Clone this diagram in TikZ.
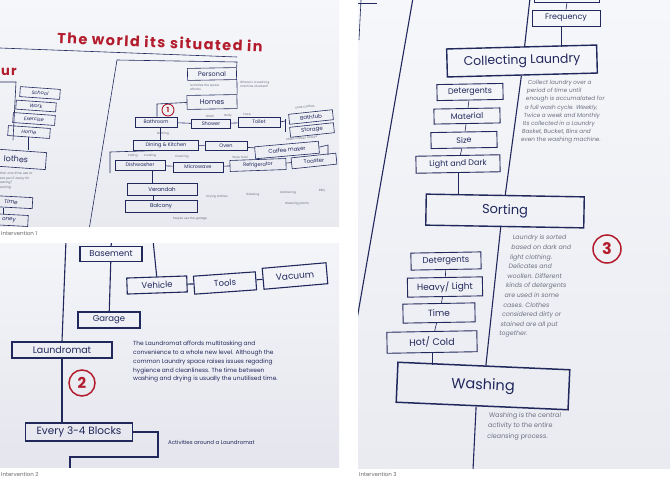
\documentclass[tikz,border=0pt]{standalone}
\usepackage{fontspec}
\setmainfont{Poppins}
\usetikzlibrary{calc}
\definecolor{ink}{RGB}{33,40,92}
\definecolor{redink}{RGB}{178,28,45}
\definecolor{note}{RGB}{110,113,130}
\definecolor{caption}{RGB}{105,105,110}
\newcommand\fsz[1]{\fontsize{#1}{#1}\selectfont}
\newcommand\fszl[2]{\fontsize{#1}{#2}\selectfont}
\begin{document}
\begin{tikzpicture}[x=1pt,y=-1pt,
  bx/.style={draw=ink, line width=0.6pt, text=ink, inner sep=0pt},
  bxb/.style={draw=ink, line width=1.1pt, text=ink, inner sep=0pt},
  ln/.style={draw=ink, line width=0.6pt},
  lnb/.style={draw=ink, line width=1.1pt},
  nt/.style={text=note, inner sep=0pt, font=\fszl{3}{4}},
  para/.style={text=ink, inner sep=0pt, align=left},
  badge/.style={circle, draw=redink, text=redink, inner sep=0pt, font=\bfseries},
  photolabel/.style={text=caption, inner sep=0pt, anchor=west, font=\fsz{5.5}}]
\useasboundingbox (0,0) rectangle (670,482);
\fill[white] (0,0) rectangle (670,482);

% ---------------- first photograph: the world its situated in
\begin{scope}
\clip (0,0) rectangle (339,226);
\shade[top color={rgb,255:red,246;green,247;blue,250}, bottom color={rgb,255:red,232;green,234;blue,240}] (0,0) rectangle (339,226);
\node[text=redink, font=\bfseries\fsz{14.5}\addfontfeature{LetterSpace=10}, rotate=-2.5, inner sep=0pt] (title) at (160,42) {The world its situated in};
\node[text=redink, font=\bfseries\fsz{13}\addfontfeature{LetterSpace=9}, anchor=west, inner sep=0pt] (ur) at (1,72) {ur};
\coordinate (ul0) at (0,48);
\coordinate (ul1) at (237,57);
\draw[ln] (ul0) -- (ul1);
\coordinate (br0) at (89,230);
\coordinate (br1) at (117,60);
\coordinate (br2) at (237,62);

\node[bx, minimum width=49, minimum height=12, font=\fsz{6.5}, rotate=1] (personal) at (212,74) {Personal};
\node[bx, minimum width=50, minimum height=14, font=\fsz{7}, rotate=1] (homes) at (212,102) {Homes};
\draw[ln] (br0) -- (br1) -- (br2) -- (personal.north east);
\draw[ln] (personal.south east) -- (homes.north east);
\node[nt, align=left, anchor=north west] (n1) at (190,84) {Activities the space\\affords};
\node[nt, align=left, anchor=north west] (n2) at (240,81) {Where is a washing\\machine situated?};

\node[badge, minimum size=12, line width=0.9pt, font=\bfseries\fsz{7}] (b1) at (168,110) {1};
\node[bx, minimum width=42, minimum height=10, font=\fsz{5}] (bath) at (156,122) {Bathroom};
\node[bx, minimum width=39, minimum height=9, font=\fsz{5}] (shower) at (211,124) {Shower};
\node[bx, minimum width=42, minimum height=10, font=\fsz{5}] (toilet) at (259,122) {Toilet};
\node[bx, minimum width=44, minimum height=10, font=\fsz{5.5}, rotate=6] (tub) at (311,117) {Bathtub};
\node[bx, minimum width=44, minimum height=10, font=\fsz{5.5}, rotate=6] (storage) at (312,130) {Storage};
\coordinate (hk) at (157,104);
\draw[ln] (homes.west) -- (hk) -- (hk |- bath.north);
\draw[ln] (bath) -- (shower) -- (toilet);
\coordinate (tb) at (285,121);
\draw[ln] (toilet.east) -- (tb);
\draw[ln] (tb |- tub.west) -- (tb |- storage.west);
\node[nt] (w1) at (210,116) {Wash};
\node[nt] (w2) at (228,116) {Body};
\node[nt] (w3) at (247,114) {Face};
\node[nt, rotate=6] (w4) at (305,107) {Soak Clothes};
\node[nt] (w5) at (163,134) {Bathing};

\node[bx, minimum width=65, minimum height=10, font=\fsz{5}] (dining) at (166,145) {Dining \& Kitchen};
\node[bx, minimum width=42, minimum height=9, font=\fsz{5}] (oven) at (226,146) {Oven};
\node[bx, minimum width=64, minimum height=12, font=\fsz{5.5}, rotate=5] (coffee) at (287,150) {Coffee maker};
\node[bx, minimum width=45, minimum height=11, font=\fsz{5.5}, rotate=6] (toaster) at (314,161) {Toaster};
\draw[ln] (bath.south -| 160,0) -- (dining.north -| 160,0);
\draw[ln] (dining) -- (oven) -- (coffee);
\coordinate (ct) at (328,145);
\draw[ln] (coffee.east) -- (ct) -- (ct |- toaster.north);
\node[nt, rotate=5] (w6) at (302,138) {Make coffee/ Leisure};

\node[bx, minimum width=50, minimum height=10, font=\fsz{5}] (dish) at (140,165) {Dishwasher};
\node[bx, minimum width=50, minimum height=10, font=\fsz{5}] (micro) at (198,167) {Microwave};
\node[bx, minimum width=56, minimum height=11, font=\fsz{5}, rotate=2] (fridge) at (258,165) {Refrigerator};
\draw[ln] (dish) -- (micro) -- (fridge) -- (toaster);
\coordinate (dk) at (110,152);
\draw[ln] (110,173) -- (dk) -- (dining.south);
\node[nt] (w7) at (133,156) {Eating};
\node[nt] (w8) at (150,156) {Cooking};
\node[nt] (w9) at (182,157) {Cleaning};
\node[nt] (w10) at (240,157) {Store food};

\node[bx, minimum width=70, minimum height=12, font=\fsz{5.5}] (veranda) at (162,189) {Verandah};
\node[bx, minimum width=72, minimum height=12, font=\fsz{5.5}] (balcony) at (161,206) {Balcony};
\draw[ln] (dish.south -| 152,0) -- (veranda.north -| 152,0);
\draw[ln] (veranda.south -| 153,0) -- (balcony.north -| 153,0);
\node[nt] (w11) at (217,197) {Drying clothes};
\node[nt] (w12) at (253,195) {Relaxing};
\node[nt] (w13) at (288,193) {Gardening};
\node[nt] (w14) at (322,191) {BBQ};
\node[nt] (w15) at (297,204) {Watering plants};
\node[nt] (w16) at (190,219) {People use the garage};

% left edge of the sheet
\coordinate (lb0) at (0,82);
\coordinate (lb1) at (16,82);
\coordinate (lb2) at (13,140);
\draw[ln] (lb0) -- (lb1) -- (lb2);
\node[bx, minimum width=40, minimum height=10, font=\itshape\fsz{5}, rotate=-4] (school) at (40,93) {School};
\node[bx, minimum width=40, minimum height=9, font=\itshape\fsz{5}, rotate=-4] (work) at (36,106) {Work};
\node[bx, minimum width=42, minimum height=10, font=\itshape\fsz{5}, rotate=-4] (exercise) at (34,119) {Exercise};
\node[bx, minimum width=42, minimum height=10, font=\itshape\fsz{5}, rotate=-4] (home) at (29,132) {Home};
\node[bx, minimum width=60, minimum height=17, font=\fsz{8}, rotate=-4] (clothes) at (16,159) {lothes};
\draw[ln] (home.south) -- (home.south |- clothes.north);
\node[nt, font=\itshape\fszl{3.2}{4.6}, align=left, anchor=north west] (w17) at (0,172) {ther one time use or\\ere put it away for\\earing/\\ashing};
\node[bx, minimum width=43, minimum height=11, font=\itshape\fsz{5.5}, rotate=-3] (time1) at (11,202) {Time};
\node[bx, minimum width=38, minimum height=11, font=\itshape\fsz{5.5}, rotate=-3] (money) at (9,220) {oney};
\draw[ln] (time1.south -| 3,0) -- (money.north -| 3,0);
\end{scope}
\node[photolabel] (cap1) at (1,233) {Intervention 1};

% ---------------- second photograph: the laundromat
\begin{scope}
\clip (0,243) rectangle (339,467);
\shade[top color={rgb,255:red,244;green,245;blue,249}, bottom color={rgb,255:red,229;green,230;blue,237}] (0,243) rectangle (339,467);
\node[text=ink, font=\fsz{5.5}, anchor=west, inner sep=0pt] (rent) at (165,241) {that can be rented in};
\node[bxb, minimum width=62, minimum height=15, font=\fsz{8.5}] (basement) at (111,254) {Basement};
\node[bxb, minimum width=62, minimum height=16, font=\fsz{8.5}] (garage) at (109,320) {Garage};
\node[bxb, minimum width=60, minimum height=16, font=\fsz{8.5}, rotate=2] (vehicle) at (157,285) {Vehicle};
\node[bxb, minimum width=62, minimum height=18, font=\fsz{8.5}, rotate=4] (tools) at (225,283) {Tools};
\node[bxb, minimum width=64, minimum height=21, font=\fsz{9}, rotate=5] (vacuum) at (295,276) {Vacuum};
\node[bxb, minimum width=100, minimum height=16, font=\fsz{9.5}] (laundromat) at (62,350) {Laundromat};
\node[bxb, minimum width=107, minimum height=18, font=\fsz{10.5}] (blocks) at (79,432) {Every 3-4 Blocks};
\coordinate (t0) at (112,240);
\coordinate (t1) at (153,240);
\coordinate (t2) at (66,240);
\draw[lnb] (t0) -- (basement.north);
\draw[lnb] (basement) -- (garage);
\draw[lnb] (t1) -- (vehicle.north);
\draw[lnb] (vehicle) -- (tools) -- (vacuum);
\draw[lnb] (t2) -- (laundromat.north);
\draw[lnb] (laundromat.south) -- (laundromat.south |- blocks.north);
\coordinate (k0) at (158,432);
\coordinate (k1) at (158,457);
\coordinate (k2) at (70,457);
\coordinate (k3) at (70,470);
\draw[lnb] (blocks.east) -- (k0) -- (k1) -- (k2) -- (k3);
\node[badge, minimum size=26, line width=1.5pt, font=\bfseries\fsz{15}] (b2) at (82,383) {2};
\node[para, font=\fszl{5.9}{8.8}, anchor=north west] (p2) at (133,341) {The Laundromat affords multitasking and\\convenience to a whole new level. Although the\\common Laundry space raises issues regading\\hygience and cleanliness. The time between\\washing and drying is usually the unutilised time.};
\node[para, font=\fsz{5.5}, anchor=west] (act) at (168,442) {Activities around a Laundromat};
\end{scope}
\node[photolabel] (cap2) at (1,474) {Intervention 2};

% ---------------- third photograph: the cleansing process
\begin{scope}
\clip (358,0) rectangle (670,468);
\shade[top color={rgb,255:red,246;green,247;blue,250}, bottom color={rgb,255:red,234;green,235;blue,241}] (358,0) rectangle (670,468);
\coordinate (e0) at (361,0);
\coordinate (e1) at (359,40);
\coordinate (e2) at (358,3);
\coordinate (e3) at (377,3);
\draw[ln] (e0) -- (e1);
\draw[ln] (e2) -- (e3);
\coordinate (l0) at (413,-2);
\coordinate (l1) at (356,325);
\draw[lnb] (l0) -- (l1);

\node[bx, minimum width=65, minimum height=20] (prev) at (567,-8) {};
\node[bx, minimum width=68, minimum height=16, font=\fsz{8}] (freq) at (566,18) {Frequency};
\draw[ln] (prev.south) -- (freq.north);
\node[bxb, line width=1.4pt, minimum width=150, minimum height=28, font=\fsz{12.5}, rotate=1.5] (collect) at (522,61) {Collecting Laundry};
\draw[ln] (freq.south -| 561,0) -- (561,47);
\coordinate (s0) at (530,-2);
\draw[lnb] (s0) -- ($(collect.north)+(3,0)$);

\node[bx, line width=0.9pt, minimum width=66, minimum height=16, font=\fsz{8}, rotate=1] (det1) at (470,92) {Detergents};
\node[bx, line width=0.9pt, minimum width=66, minimum height=15, font=\fsz{8}, rotate=1] (material) at (467,116) {Material};
\node[bx, line width=0.9pt, minimum width=66, minimum height=16, font=\fsz{8}, rotate=1] (size) at (464,140) {Size};
\node[bx, line width=0.9pt, minimum width=84, minimum height=17, font=\fsz{8}, rotate=1] (lightdark) at (458,164) {Light and Dark};
\draw[ln] (det1) -- (material) -- (size) -- (lightdark);
\node[para, text=note, font=\fszl{5.8}{8.2}, xslant=0.12, anchor=north west] (p3a) at (528,80) {Collect laundry over a\\period of time until\\enough is accumalated for\\a full wash cycle. \textit{Weekly,}\\Twice a week and Monthly\\Its collected in a Laundry\\Basket, Bucket, Bins and\\even the washing machine.};

\node[bxb, line width=1.4pt, minimum width=158, minimum height=31, font=\fsz{13}, rotate=-1] (sorting) at (505,211) {Sorting};
\draw[lnb] ($(collect.south)+(-1,0)$) -- (sorting.north);
\draw[ln] (lightdark.south) -- (lightdark.south |- sorting.north);
\node[badge, minimum size=28, line width=1.5pt, font=\bfseries\fsz{16}] (b3) at (607,249) {3};
\node[para, text=note, font=\fszl{6.3}{9.6}, xslant=0.14, anchor=north west] (p3b) at (513,235) {Laundry is sorted\\based on dark and\\light clothing.\\Delicates and\\woollen. Different\\kinds of detergents\\are used in some\\cases. Clothes\\considered dirty or\\stained are all put\\together.};

\node[bx, line width=0.9pt, minimum width=70, minimum height=17, font=\fsz{8.5}, rotate=1] (det2) at (446,261) {Detergents};
\node[bx, line width=0.9pt, minimum width=75, minimum height=19, font=\fsz{9}, rotate=1] (heavy) at (445,287) {Heavy/ Light};
\node[bx, line width=0.9pt, minimum width=72, minimum height=19, font=\fsz{9}, rotate=1] (time2) at (439,313) {Time};
\node[bx, line width=0.9pt, minimum width=90, minimum height=21, font=\fsz{9.5}, rotate=1] (hotcold) at (432,342) {Hot/ Cold};
\draw[ln] (det2) -- (heavy) -- (time2) -- (hotcold);
\node[bxb, line width=1.5pt, minimum width=172, minimum height=40, font=\fsz{14.5}, rotate=-2.5] (washing) at (483,386) {Washing};
\draw[lnb] ($(sorting.south)+(-4,0)$) -- ($(washing.north)+(2,0)$);
\draw[ln] (hotcold.south) -- (hotcold.south |- washing.north);
\coordinate (s9) at (473,470);
\draw[lnb] ($(washing.south)+(-6,0)$) -- (s9);
\node[para, text=note, font=\fszl{6.5}{10.5}, xslant=0.08, anchor=north west] (p3c) at (489,412) {Washing is the central\\activity to the entire\\cleansing process.};
\end{scope}
\node[photolabel] (cap3) at (359,474) {Intervention 3};
\end{tikzpicture}
\end{document}
